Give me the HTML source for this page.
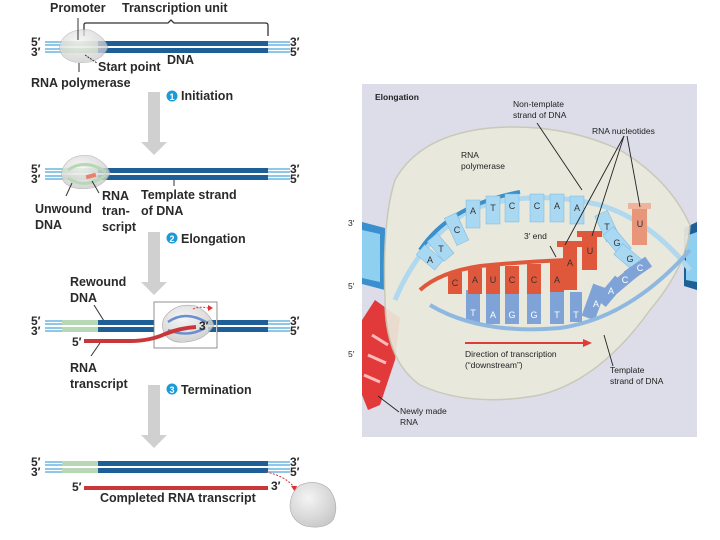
<!DOCTYPE html>
<html><head><meta charset="utf-8"><style>
html,body{margin:0;padding:0;background:#fff;}
svg{display:block;font-family:"Liberation Sans",Arial,sans-serif;}
.l{font-size:12.5px;font-weight:bold;fill:#2a2a2a;}
.p{font-size:12px;font-weight:bold;fill:#2a2a2a;}
.s{font-size:8.5px;fill:#222;}
.b{font-size:9px;fill:#333;text-anchor:middle;}
.w{font-size:9px;fill:#fff;text-anchor:middle;}
</style></head><body>
<svg width="720" height="540" viewBox="0 0 720 540" xmlns="http://www.w3.org/2000/svg">
<defs>
<radialGradient id="bl" cx="0.4" cy="0.35" r="0.7"><stop offset="0" stop-color="#f4f4f4"/><stop offset="1" stop-color="#c9c9c9"/></radialGradient>
<g id="dna">
 <rect x="45" y="0" width="245" height="5" fill="#8ec8e8"/>
 <rect x="45" y="7" width="245" height="5" fill="#8ec8e8"/>
 <rect x="45" y="2" width="245" height="1" fill="#fff"/>
 <rect x="45" y="9" width="245" height="1" fill="#fff"/>
 <rect x="62" y="0" width="36" height="5" fill="#b6d8b4"/>
 <rect x="62" y="7" width="36" height="5" fill="#b6d8b4"/>
 <rect x="98" y="0" width="170" height="5" fill="#1f5f98"/>
 <rect x="98" y="7" width="170" height="5" fill="#1f5f98"/>
</g>
<g id="lab53"><text x="31" y="6" class="p">5′</text><text x="31" y="16" class="p">3′</text><text x="290" y="6" class="p">3′</text><text x="290" y="16" class="p">5′</text></g>
<g id="arr"><rect x="148" y="0" width="12" height="52" fill="#d0d0d0"/><polygon points="141,50 167,50 154,63" fill="#d0d0d0"/></g>
</defs>

<!-- Row 1 -->
<text x="50" y="12" class="l">Promoter</text>
<text x="122" y="12" class="l">Transcription unit</text>
<path d="M84,36 V25 Q84,23 86,23 H168 L171,20 L174,23 H265 Q268,23 268,25 V36" fill="none" stroke="#333" stroke-width="1.3"/>
<use href="#dna" y="41"/>
<use href="#lab53" y="40"/>
<path d="M62,40 Q70,28 90,30 Q104,36 108,47 Q104,58 90,62 Q70,65 62,55 Q57,47 62,40Z" fill="url(#bl)" opacity="0.75" stroke="#aaa" stroke-width="0.6"/>
<line x1="78" y1="18" x2="78" y2="40" stroke="#333"/>
<line x1="79" y1="63" x2="79" y2="72" stroke="#333"/>
<line x1="85" y1="55" x2="97" y2="63" stroke="#333" stroke-dasharray="2,1"/>
<text x="98" y="71" class="l">Start point</text>
<text x="167" y="64" class="l">DNA</text>
<text x="31" y="87" class="l">RNA polymerase</text>
<use href="#arr" y="92"/>
<circle cx="172" cy="96" r="5.5" fill="#1a9ad6"/><text x="172" y="100" font-size="9" font-weight="bold" fill="#fff" text-anchor="middle">1</text>
<text x="181" y="100" class="l">Initiation</text>

<!-- Row 2 -->
<use href="#dna" y="168"/>
<use href="#lab53" y="167"/>
<path d="M64,166 Q72,153 92,156 Q106,162 110,173 Q106,184 92,188 Q72,191 64,182 Q59,174 64,166Z" fill="url(#bl)" opacity="0.8" stroke="#aaa" stroke-width="0.6"/>
<path d="M68,170 Q85,158 106,172" fill="none" stroke="#b6d8b4" stroke-width="3"/>
<path d="M68,178 Q85,190 106,175" fill="none" stroke="#b6d8b4" stroke-width="3"/>
<rect x="86" y="174" width="10" height="4" fill="#e8806a" transform="rotate(-15 91 176)"/>
<line x1="174" y1="180" x2="174" y2="186" stroke="#333"/>
<line x1="72" y1="183" x2="66" y2="196" stroke="#333"/>
<line x1="92" y1="181" x2="99" y2="193" stroke="#333"/>
<text x="35" y="213" class="l">Unwound</text><text x="35" y="229" class="l">DNA</text>
<text x="102" y="200" class="l">RNA</text><text x="102" y="215" class="l">tran-</text><text x="102" y="231" class="l">script</text>
<text x="141" y="199" class="l">Template strand</text><text x="141" y="215" class="l">of DNA</text>
<use href="#arr" y="232"/>
<circle cx="172" cy="238" r="5.5" fill="#1a9ad6"/><text x="172" y="242" font-size="9" font-weight="bold" fill="#fff" text-anchor="middle">2</text>
<text x="181" y="243" class="l">Elongation</text>

<!-- Row 3 -->
<text x="70" y="286" class="l">Rewound</text><text x="70" y="302" class="l">DNA</text>
<line x1="94" y1="305" x2="104" y2="321" stroke="#333"/>
<use href="#dna" y="320"/>
<use href="#lab53" y="319"/>
<rect x="154" y="302" width="63" height="46" fill="#fff" stroke="#777" stroke-width="0.8"/>
<rect x="155" y="320" width="61" height="12" fill="#fff"/>
<rect x="208" y="320" width="8" height="5" fill="#1f5f98"/><rect x="208" y="327" width="8" height="5" fill="#1f5f98"/>
<path d="M164,318 Q175,302 196,306 Q210,313 214,325 Q208,336 196,340 Q175,346 166,336 Q160,327 164,318Z" fill="url(#bl)" opacity="0.85" stroke="#999" stroke-width="0.6"/>
<path d="M168,322 Q185,310 206,322" fill="none" stroke="#6a8fcf" stroke-width="2.5"/>
<path d="M168,330 Q188,338 205,328" fill="none" stroke="#6a8fcf" stroke-width="2.5"/>
<path d="M84,341 H130 Q150,341 165,334 Q180,328 196,327" fill="none" stroke="#c8383a" stroke-width="4"/>
<path d="M193,309 Q200,306 208,308" fill="none" stroke="#d33" stroke-dasharray="2,1.5"/><polygon points="208,305 213,308 208,311" fill="#d33"/>
<text x="199" y="330" class="p">3′</text>
<text x="72" y="346" class="p">5′</text>
<line x1="100" y1="343" x2="91" y2="356" stroke="#333"/>
<text x="70" y="372" class="l">RNA</text><text x="70" y="388" class="l">transcript</text>
<use href="#arr" y="385"/>
<circle cx="172" cy="389" r="5.5" fill="#1a9ad6"/><text x="172" y="393" font-size="9" font-weight="bold" fill="#fff" text-anchor="middle">3</text>
<text x="181" y="394" class="l">Termination</text>

<!-- Row 4 -->
<use href="#dna" y="461"/>
<use href="#lab53" y="460"/>
<rect x="84" y="486" width="184" height="4" fill="#c8383a"/>
<text x="72" y="491" class="p">5′</text><text x="271" y="490" class="p">3′</text>
<text x="100" y="502" class="l">Completed RNA transcript</text>
<path d="M266,472 Q285,476 294,487" fill="none" stroke="#d33" stroke-dasharray="2,1.5"/><polygon points="291,486 297,486 295,492" fill="#d33"/>
<path d="M300,485 Q318,478 330,490 Q340,505 333,520 Q325,530 305,526 Q290,520 290,505 Q291,492 300,485Z" fill="url(#bl)" stroke="#aaa" stroke-width="0.6"/>

<!-- Right panel -->
<rect x="362" y="84" width="335" height="353" fill="#dcdde9"/>
<!-- edge DNA -->
<path d="M362,222 L385,228 L385,290 L362,284Z" fill="#3a8fcf"/>
<path d="M362,230 L380,234 L380,282 L362,278Z" fill="#8fd0f0"/>
<path d="M684,228 L697,222 L697,290 L684,286Z" fill="#1f5f98"/>
<path d="M686,236 L697,232 L697,282 L686,280Z" fill="#8fd0f0"/>
<!-- newly made RNA -->
<path d="M375,300 L400,318 L395,360 L380,405 L368,410 L362,395 L362,320Z" fill="#e23a3a"/>
<line x1="372" y1="335" x2="388" y2="345" stroke="#fbb" stroke-width="3"/>
<line x1="368" y1="355" x2="386" y2="363" stroke="#fbb" stroke-width="3"/>
<line x1="364" y1="375" x2="380" y2="382" stroke="#fbb" stroke-width="3"/>
<!-- polymerase -->
<path d="M395,180 Q420,135 490,128 Q560,122 620,150 Q670,180 690,225 Q688,265 650,310 Q600,380 540,395 Q470,408 420,385 Q385,360 385,300 Q382,220 395,180Z" fill="#ebe9dc" stroke="#c9c7b5" stroke-width="1.5" opacity="0.92"/>
<!-- top backbone -->
<path d="M395,300 Q420,240 470,210 Q530,188 600,205 Q650,220 690,270" fill="none" stroke="#b0d8ee" stroke-width="5"/>
<path d="M420,250 Q450,205 520,192" fill="none" stroke="#3a90cc" stroke-width="4"/>
<g fill="#a9d8f2" stroke="#7ab8de" stroke-width="0.5">
<rect x="423" y="245" width="13" height="24" transform="rotate(-50 430 257)"/>
<rect x="434" y="234" width="13" height="26" transform="rotate(-40 441 247)"/>
<rect x="450" y="214" width="13" height="30" transform="rotate(-25 457 229)"/>
<rect x="466" y="200" width="14" height="28"/>
<rect x="486" y="196" width="14" height="28"/>
<rect x="505" y="194" width="14" height="28"/>
<rect x="530" y="194" width="14" height="28"/>
<rect x="550" y="194" width="14" height="28"/>
<rect x="570" y="196" width="14" height="28"/>
<rect x="600" y="212" width="14" height="28" transform="rotate(-25 607 226)"/>
<rect x="610" y="228" width="14" height="28" transform="rotate(-40 617 242)"/>
<rect x="622" y="244" width="14" height="28" transform="rotate(-50 629 258)"/>
</g>
<g class="b"><text x="430" y="263">A</text><text x="441" y="252">T</text><text x="457" y="233">C</text><text x="473" y="214">A</text><text x="493" y="211">T</text><text x="512" y="209">C</text><text x="537" y="209">C</text><text x="557" y="209">A</text><text x="577" y="211">A</text><text x="607" y="230">T</text><text x="617" y="246">G</text><text x="630" y="262">G</text></g>
<!-- template lower -->
<g fill="#7fa3d6">
<rect x="466" y="290" width="14" height="32"/><rect x="486" y="290" width="14" height="34"/><rect x="505" y="290" width="14" height="34"/><rect x="527" y="290" width="14" height="34"/><rect x="550" y="290" width="14" height="34"/><rect x="570" y="292" width="12" height="30"/>
<rect x="587" y="285" width="14" height="34" transform="rotate(20 594 302)"/>
<rect x="604" y="276" width="13" height="30" transform="rotate(40 610 291)"/>
<rect x="618" y="266" width="12" height="28" transform="rotate(50 624 280)"/>
<rect x="632" y="256" width="12" height="26" transform="rotate(55 638 269)"/>
</g>
<path d="M430,305 Q480,335 560,328 Q630,318 690,250" fill="none" stroke="#8fb8e0" stroke-width="4"/>
<g class="w"><text x="473" y="316">T</text><text x="493" y="318">A</text><text x="512" y="318">G</text><text x="534" y="318">G</text><text x="557" y="318">T</text><text x="576" y="318">T</text><text x="596" y="307">A</text><text x="611" y="294">A</text><text x="625" y="283">C</text><text x="640" y="271">C</text></g>
<!-- RNA red -->
<g fill="#e0583c">
<rect x="448" y="272" width="14" height="22"/><rect x="468" y="268" width="14" height="26"/><rect x="486" y="266" width="14" height="28"/><rect x="505" y="266" width="14" height="28"/><rect x="527" y="264" width="14" height="30"/><rect x="550" y="262" width="14" height="30"/>
<rect x="563" y="245" width="14" height="45"/><rect x="557" y="241" width="26" height="6"/>
<rect x="582" y="236" width="15" height="34"/><rect x="577" y="231" width="25" height="6"/>
</g>
<rect x="632" y="208" width="15" height="37" fill="#e8957a"/><rect x="628" y="203" width="23" height="6" fill="#eeb39c"/>
<path d="M420,290 Q440,272 480,266 Q520,262 566,260" fill="none" stroke="#e0583c" stroke-width="4"/>
<g class="b"><text x="455" y="286">C</text><text x="475" y="283">A</text><text x="493" y="283">U</text><text x="512" y="283">C</text><text x="534" y="283">C</text><text x="557" y="283">A</text><text x="570" y="266">A</text><text x="590" y="254">U</text><text x="640" y="227">U</text></g>
<!-- leader lines -->
<g stroke="#222" stroke-width="0.9" fill="none">
<line x1="537" y1="123" x2="582" y2="190"/>
<line x1="624" y1="136" x2="565" y2="245"/>
<line x1="624" y1="136" x2="592" y2="236"/>
<line x1="627" y1="136" x2="640" y2="207"/>
<line x1="550" y1="246" x2="556" y2="257"/>
<line x1="604" y1="335" x2="613" y2="366"/>
<line x1="378" y1="396" x2="399" y2="412"/>
</g>
<line x1="465" y1="343" x2="585" y2="343" stroke="#e03a3a" stroke-width="2"/><polygon points="583,339 592,343 583,347" fill="#e03a3a"/>
<g class="s">
<text x="375" y="100" font-weight="bold">Elongation</text>
<text x="513" y="107">Non-template</text><text x="513" y="118">strand of DNA</text>
<text x="592" y="134">RNA nucleotides</text>
<text x="461" y="158">RNA</text><text x="461" y="169">polymerase</text>
<text x="524" y="239">3′ end</text>
<text x="465" y="357">Direction of transcription</text><text x="465" y="368">(“downstream”)</text>
<text x="610" y="373">Template</text><text x="610" y="384">strand of DNA</text>
<text x="400" y="414">Newly made</text><text x="400" y="425">RNA</text>
<text x="348" y="226">3′</text><text x="348" y="289">5′</text><text x="348" y="357">5′</text>
</g>
</svg>
</body></html>
